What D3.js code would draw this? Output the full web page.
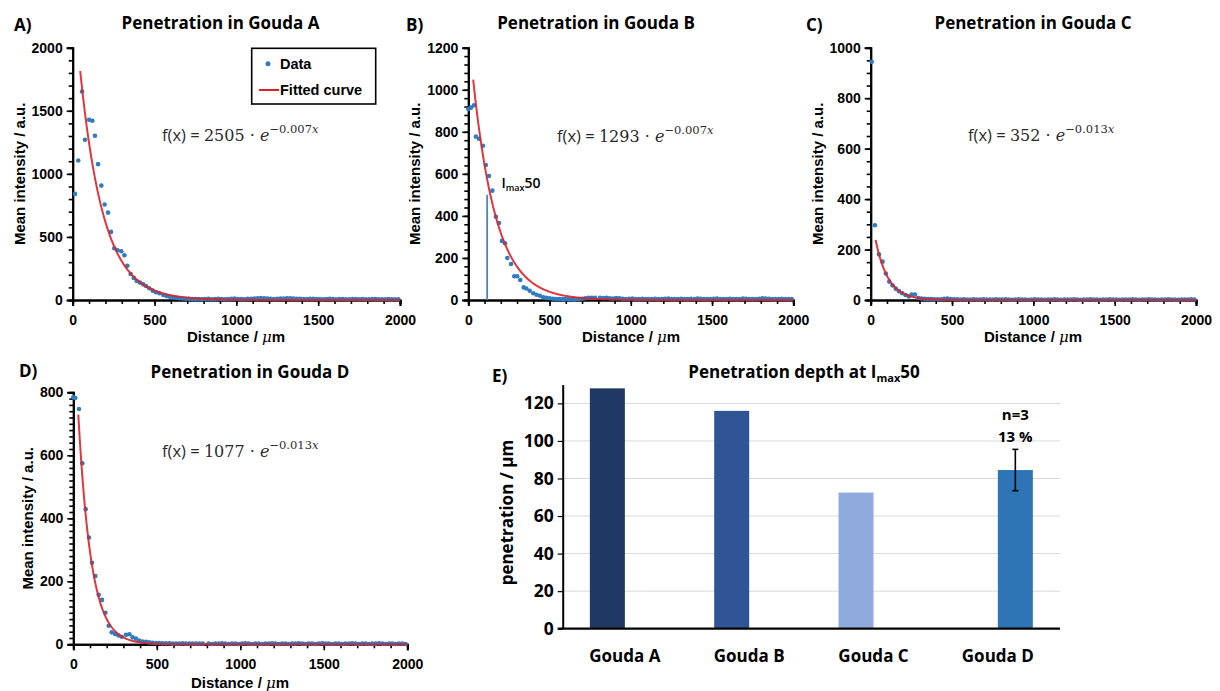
<!DOCTYPE html>
<html>
<head>
<meta charset="utf-8">
<script src="https://cdn.jsdelivr.net/npm/d3@7"></script>
<style>
  body { margin: 0; background: #fff; }
  svg text { fill: #000; }
</style>
</head>
<body>
<svg id="fig" width="1220" height="691"></svg>
<script>
// ---------- intensity profiles (distance in µm, mean intensity in a.u.) ----------
const distanceA  = [14,34,57,75,100,120,136,155,175,195,216,234,254,274,297,316,334,354,373,391,411,431,448,468,489,509,530,554,573,593,612,632,652,671,691,711,730,750,770,790];
const intensityA = [841,1106,1653,1270,1429,1421,1302,1077,907,757,693,540,410,394,386,355,272,206,175,151,138,124,111,93,74,61,53,40,32,26,21,17,14,12,10,9,8,7,8,6];

const distanceB  = [0,17,35,47,66,90,108,127,148,170,189,207,226,240,263,283,301,320,341,357,378,400,420,441,461,480,500,520,540,560,580,600,620,640,660,680,700,720,740,760,780];
const intensityB = [908,915,926,777,767,734,642,590,520,396,366,281,270,200,171,113,113,95,60,55,44,32,25,20,13,10,8,6,5,5,4,4,3,4,3,5,6,8,10,11,10];

const distanceC  = [6,26,51,73,93,114,134,154,174,194,214,234,252,272,292,312,332,352,372,392,412,432,452,472,492,512,532,552,572,592,612,632,652,672,692,712,732,752,772,792];
const intensityC = [944,296,181,152,105,73,58,45,35,27,20,14,22,22,8,6,5,4,4,3,3,3,5,6,4,3,3,2,3,2,2,3,2,2,3,2,2,2,3,2];

const distanceD  = [0,12,34,54,74,94,112,132,152,172,192,212,230,250,270,290,316,336,355,375,395,415,435,455,475,495,515,535,555,575,595,615,635,655,675,695,715,735,755,775];
const intensityD = [784,782,747,575,429,339,259,217,157,141,100,59,38,33,28,24,30,32,22,18,12,9,8,6,5,4,4,3,3,3,2,2,2,3,2,2,2,2,2,2];

// far field, shared sampling positions
const tailDistance = [810,830,850,870,890,910,930,950,970,990,1010,1030,1050,1070,1090,1110,1130,1150,1170,1190,1210,1230,1250,1270,1290,1310,1330,1350,1370,1390,1410,1430,1450,1470,1490,1510,1530,1550,1570,1590,1610,1630,1650,1670,1690,1710,1730,1750,1770,1790,1810,1830,1850,1870,1890,1910,1930,1950,1970,1990];
const tailIntensityA = [7,9,6,8,10,7,6,8,9,11,8,7,6,9,10,12,14,15,13,11,9,8,10,12,11,13,14,12,10,9,8,7,9,10,8,7,6,8,9,7,6,7,8,6,5,7,8,6,7,5,6,8,7,6,5,6,7,5,6,5];
const tailIntensityB = [10,9,11,8,7,9,8,6,5,6,7,5,4,6,5,4,5,6,4,5,6,7,5,4,5,6,5,4,6,5,7,6,5,4,5,6,7,5,4,5,6,5,4,5,7,6,5,4,5,6,8,7,6,5,4,5,6,5,4,5];
const tailIntensityC = [2,3,2,1,2,3,2,2,1,2,3,2,2,1,2,2,3,2,1,2,2,2,3,2,1,2,2,3,2,2,1,2,2,3,2,2,1,2,2,2,3,2,1,2,2,3,2,2,1,2,2,3,2,2,1,2,2,2,3,2];
const tailIntensityD = [2,1,2,2,3,2,1,2,2,1,2,3,2,1,2,2,1,2,2,3,2,1,2,2,1,2,2,3,2,1,2,2,1,2,3,2,2,1,2,2,1,2,2,3,2,1,2,2,1,2,2,3,2,1,2,2,1,2,2,1];

// exponential fits f(x) = a · e^(−k·x)
const fitAmplitude = [2505, 1293, 352, 1077];
const fitRate      = [0.007, 0.007, 0.013, 0.013];
const fitStart     = [46, 30, 30, 30];

const panelLetters = ["A)", "B)", "C)", "D)"];
const panelTitles  = ["Penetration in Gouda A", "Penetration in Gouda B", "Penetration in Gouda C", "Penetration in Gouda D"];
const yMaxima      = [2000, 1200, 1000, 800];
const yMajorSteps  = [500, 200, 200, 200];
const yMinorSteps  = [100, 40, 50, 20];
const xTickValues  = [0, 500, 1000, 1500, 2000];

const halfMaxLevelB = 500;   // I_max50 level marked in panel B

// ---------- penetration depth summary ----------
const categories       = ["Gouda A", "Gouda B", "Gouda C", "Gouda D"];
const penetration      = [128, 116, 72.5, 84.5];
const penetrationError = [null, null, null, 11];
const replicates       = [null, null, null, 3];
const barGroup         = ["single", "single", "single", "replicate"];
const barColors        = ["#203864", "#2f5597", "#8faadc", "#2e75b6"];
const penetrationTicks = [0, 20, 40, 60, 80, 100, 120];

// ---------- drawing ----------
const svg = d3.select("#fig");
const SANS = "'Liberation Sans', Arial, sans-serif";
const TITLE = "'Open Sans', sans-serif";
const SERIF = "'DejaVu Serif', 'Liberation Serif', serif";
const DOT = "#2f7dc0";
const RED = "#d9222b";
const EQ = "#2a2a2a";

const layouts = [
  { left: 72.7, right: 400, bottom: 300, top: 47.7, letter: [14, 31], title: [220.5, 29], formula: [162, 141], ylab: 24.5, xlab: [236, 342] },
  { left: 468.3, right: 793.3, bottom: 300, top: 47.7, letter: [406, 31], title: [596, 29], formula: [557, 142], ylab: 420, xlab: [631, 342] },
  { left: 870.7, right: 1196, bottom: 300, top: 47.7, letter: [806, 31], title: [1033, 29], formula: [968, 141], ylab: 823, xlab: [1033, 342] },
  { left: 73.3, right: 407.3, bottom: 644.3, top: 392.3, letter: [19, 377], title: [250, 378], formula: [162, 457], ylab: 33, xlab: [240, 688] }
];

const profiles = [
  { d: distanceA.concat(tailDistance), v: intensityA.concat(tailIntensityA) },
  { d: distanceB.concat(tailDistance), v: intensityB.concat(tailIntensityB) },
  { d: distanceC.concat(tailDistance), v: intensityC.concat(tailIntensityC) },
  { d: distanceD.concat(tailDistance), v: intensityD.concat(tailIntensityD) }
];

function styleAxis(g) {
  g.select(".domain").attr("stroke", "#000").attr("stroke-width", 2);
  g.selectAll(".tick line").attr("stroke", "#000").attr("stroke-width", 1.6);
  g.selectAll(".tick text").attr("font-family", SANS).attr("font-weight", "bold").attr("font-size", 14).attr("fill", "#000");
}

profiles.forEach((p, i) => {
  const L = layouts[i];
  const g = svg.append("g");
  const x = d3.scaleLinear().domain([0, 2000]).range([L.left, L.right]);
  const y = d3.scaleLinear().domain([0, yMaxima[i]]).range([L.bottom, L.top]);

  // minor ticks
  g.append("g").attr("transform", `translate(0,${L.bottom})`)
    .call(d3.axisBottom(x).tickValues(d3.range(0, 2001, 100)).tickSize(4).tickFormat(""))
    .call(styleAxis);
  g.append("g").attr("transform", `translate(${L.left},0)`)
    .call(d3.axisLeft(y).tickValues(d3.range(0, yMaxima[i] + 1, yMinorSteps[i])).tickSize(4).tickFormat(""))
    .call(styleAxis);
  // major ticks
  g.append("g").attr("transform", `translate(0,${L.bottom})`)
    .call(d3.axisBottom(x).tickValues(xTickValues).tickSize(6).tickPadding(9).tickFormat(d3.format("d")))
    .call(styleAxis);
  g.append("g").attr("transform", `translate(${L.left},0)`)
    .call(d3.axisLeft(y).tickValues(d3.range(0, yMaxima[i] + 1, yMajorSteps[i])).tickSize(6).tickPadding(4).tickFormat(d3.format("d")))
    .call(styleAxis);

  // data points
  const pts = p.d.map((d, k) => [d, p.v[k]]);
  g.append("g").selectAll("circle").data(pts).join("circle")
    .attr("cx", d => x(d[0])).attr("cy", d => y(d[1])).attr("r", 2.3).attr("fill", DOT);

  // fitted curve
  const a = fitAmplitude[i], k = fitRate[i];
  const curve = d3.range(fitStart[i], 2001, 4).map(t => [t, a * Math.exp(-k * t)]);
  g.append("path").datum(curve)
    .attr("d", d3.line().x(d => x(d[0])).y(d => y(d[1])))
    .attr("fill", "none").attr("stroke", RED).attr("stroke-width", 2).attr("stroke-opacity", 0.9);

  // letter + title
  g.append("text").attr("x", L.letter[0]).attr("y", L.letter[1])
    .attr("font-family", TITLE).attr("font-weight", "bold").attr("font-size", 17).text(panelLetters[i]);
  g.append("text").attr("x", L.title[0]).attr("y", L.title[1]).attr("text-anchor", "middle")
    .attr("font-family", TITLE).attr("font-weight", "bold").attr("font-size", 17).text(panelTitles[i]);

  // axis titles
  const xl = g.append("text").attr("x", L.xlab[0]).attr("y", L.xlab[1]).attr("text-anchor", "middle")
    .attr("font-family", SANS).attr("font-weight", "bold").attr("font-size", 15);
  xl.append("tspan").text("Distance / ");
  xl.append("tspan").attr("font-style", "italic").attr("font-weight", "normal").attr("font-family", SERIF).attr("font-size", 15).text("μ");
  xl.append("tspan").text("m");
  g.append("text").attr("transform", `translate(${L.ylab},${(L.top + L.bottom) / 2}) rotate(-90)`)
    .attr("text-anchor", "middle").attr("font-family", SANS).attr("font-weight", "bold").attr("font-size", 15)
    .text("Mean intensity / a.u.");

  // fit equation
  const f = g.append("text").attr("x", L.formula[0]).attr("y", L.formula[1]).attr("fill", EQ);
  f.append("tspan").attr("font-family", TITLE).attr("font-size", 16.5).attr("fill", EQ).text("f(x) = ");
  f.append("tspan").attr("font-family", SERIF).attr("font-size", 16).attr("fill", EQ).text(a + " · ");
  f.append("tspan").attr("font-family", SERIF).attr("font-style", "italic").attr("font-size", 16).attr("fill", EQ).text("e");
  f.append("tspan").attr("font-family", SERIF).attr("font-size", 11.5).attr("dy", -8).attr("fill", EQ).text("−" + k.toFixed(3));
  f.append("tspan").attr("font-family", SERIF).attr("font-style", "italic").attr("font-size", 11.5).attr("fill", EQ).text("x");

  if (i === 0) {
    // legend
    const lg = g.append("g");
    lg.append("rect").attr("x", 251.7).attr("y", 48.3).attr("width", 124).attr("height", 55.7)
      .attr("fill", "#fff").attr("stroke", "#000").attr("stroke-width", 1.6);
    lg.append("circle").attr("cx", 268).attr("cy", 63.7).attr("r", 2.5).attr("fill", DOT);
    lg.append("text").attr("x", 280).attr("y", 68.7).attr("font-family", SANS).attr("font-weight", "bold").attr("font-size", 14.5).text("Data");
    lg.append("line").attr("x1", 259).attr("x2", 279).attr("y1", 90).attr("y2", 90).attr("stroke", RED).attr("stroke-width", 2);
    lg.append("text").attr("x", 280).attr("y", 95).attr("font-family", SANS).attr("font-weight", "bold").attr("font-size", 14.5).text("Fitted curve");
  }
  if (i === 1) {
    // I_max50 marker at the panel-B penetration depth
    g.append("line").attr("x1", x(penetration[1])).attr("x2", x(penetration[1]))
      .attr("y1", y(0)).attr("y2", y(halfMaxLevelB)).attr("stroke", "#4a86bf").attr("stroke-width", 1.8);
    const t = g.append("text").attr("x", 501.5).attr("y", 188).attr("font-family", TITLE).attr("font-size", 14).attr("font-weight", 600);
    t.append("tspan").text("I");
    t.append("tspan").attr("font-size", 9).attr("dy", 3).text("max");
    t.append("tspan").attr("dy", -3).text("50");
  }
});

// ---------- panel E: bar chart ----------
(function () {
  const left = 562.7, right = 1060, bottom = 628.7;
  const g = svg.append("g");
  const y = d3.scaleLinear().domain([0, 130]).range([bottom, 384.6]);
  const x0 = d3.scaleBand().domain(categories).range([left, right]);
  const x1 = d3.scaleBand().domain(["single", "replicate"]).range([0, x0.bandwidth()]).paddingOuter(0.776);

  // gridlines
  g.append("g").selectAll("line").data(penetrationTicks.filter(v => v > 0)).join("line")
    .attr("x1", left).attr("x2", right).attr("y1", d => y(d)).attr("y2", d => y(d))
    .attr("stroke", "#d9d9d9").attr("stroke-width", 1);

  // bars
  g.append("g").selectAll("rect").data(categories).join("rect")
    .attr("x", (c, i) => x0(c) + x1(barGroup[i]))
    .attr("width", x1.bandwidth())
    .attr("y", (c, i) => y(penetration[i]))
    .attr("height", (c, i) => y(0) - y(penetration[i]))
    .attr("fill", (c, i) => barColors[i]);

  // y axis
  const ya = g.append("g").attr("transform", `translate(${left},0)`)
    .call(d3.axisLeft(y).tickValues(penetrationTicks).tickSize(5).tickPadding(4).tickSizeOuter(0));
  ya.select(".domain").attr("stroke", "#000").attr("stroke-width", 2);
  ya.selectAll(".tick line").attr("stroke", "#000").attr("stroke-width", 1.2);
  ya.selectAll(".tick text").attr("font-family", TITLE).attr("font-weight", "bold").attr("font-size", 17.5).attr("fill", "#000");

  // baseline
  g.append("line").attr("x1", left - 5).attr("x2", right).attr("y1", bottom).attr("y2", bottom)
    .attr("stroke", "#000").attr("stroke-width", 2.2);

  // category labels
  g.append("g").selectAll("text").data(categories).join("text")
    .attr("x", c => x0(c) + x0.bandwidth() / 2).attr("y", 661.5).attr("text-anchor", "middle")
    .attr("font-family", TITLE).attr("font-weight", "bold").attr("font-size", 17).text(c => c);

  // error bars
  categories.forEach((c, i) => {
    const e = penetrationError[i];
    if (e == null) return;
    const cx = x0(c) + x1(barGroup[i]) + x1.bandwidth() / 2;
    const eg = g.append("g").attr("stroke", "#000").attr("stroke-width", 1.6);
    eg.append("line").attr("x1", cx).attr("x2", cx).attr("y1", y(penetration[i] - e)).attr("y2", y(penetration[i] + e));
    eg.append("line").attr("x1", cx - 3).attr("x2", cx + 3).attr("y1", y(penetration[i] - e)).attr("y2", y(penetration[i] - e));
    eg.append("line").attr("x1", cx - 3).attr("x2", cx + 3).attr("y1", y(penetration[i] + e)).attr("y2", y(penetration[i] + e));
    g.append("text").attr("x", cx).attr("y", 420).attr("text-anchor", "middle")
      .attr("font-family", TITLE).attr("font-weight", "bold").attr("font-size", 15).text("n=" + replicates[i]);
    g.append("text").attr("x", cx).attr("y", 441.5).attr("text-anchor", "middle")
      .attr("font-family", TITLE).attr("font-weight", "bold").attr("font-size", 15)
      .text(Math.round(100 * e / penetration[i]) + " %");
  });

  // axis title, panel letter and title
  g.append("text").attr("transform", `translate(513,${(bottom + 384.6) / 2 + 6}) rotate(-90)`)
    .attr("text-anchor", "middle").attr("font-family", TITLE).attr("font-weight", "bold").attr("font-size", 17)
    .text("penetration / µm");
  g.append("text").attr("x", 492).attr("y", 382).attr("font-family", TITLE).attr("font-weight", "bold").attr("font-size", 17).text("E)");
  const t = g.append("text").attr("x", 804).attr("y", 378).attr("text-anchor", "middle")
    .attr("font-family", TITLE).attr("font-weight", "bold").attr("font-size", 17);
  t.append("tspan").text("Penetration depth at I");
  t.append("tspan").attr("font-size", 11).attr("dy", 4).text("max");
  t.append("tspan").attr("dy", -4).text("50");
})();
</script>
</body>
</html>
